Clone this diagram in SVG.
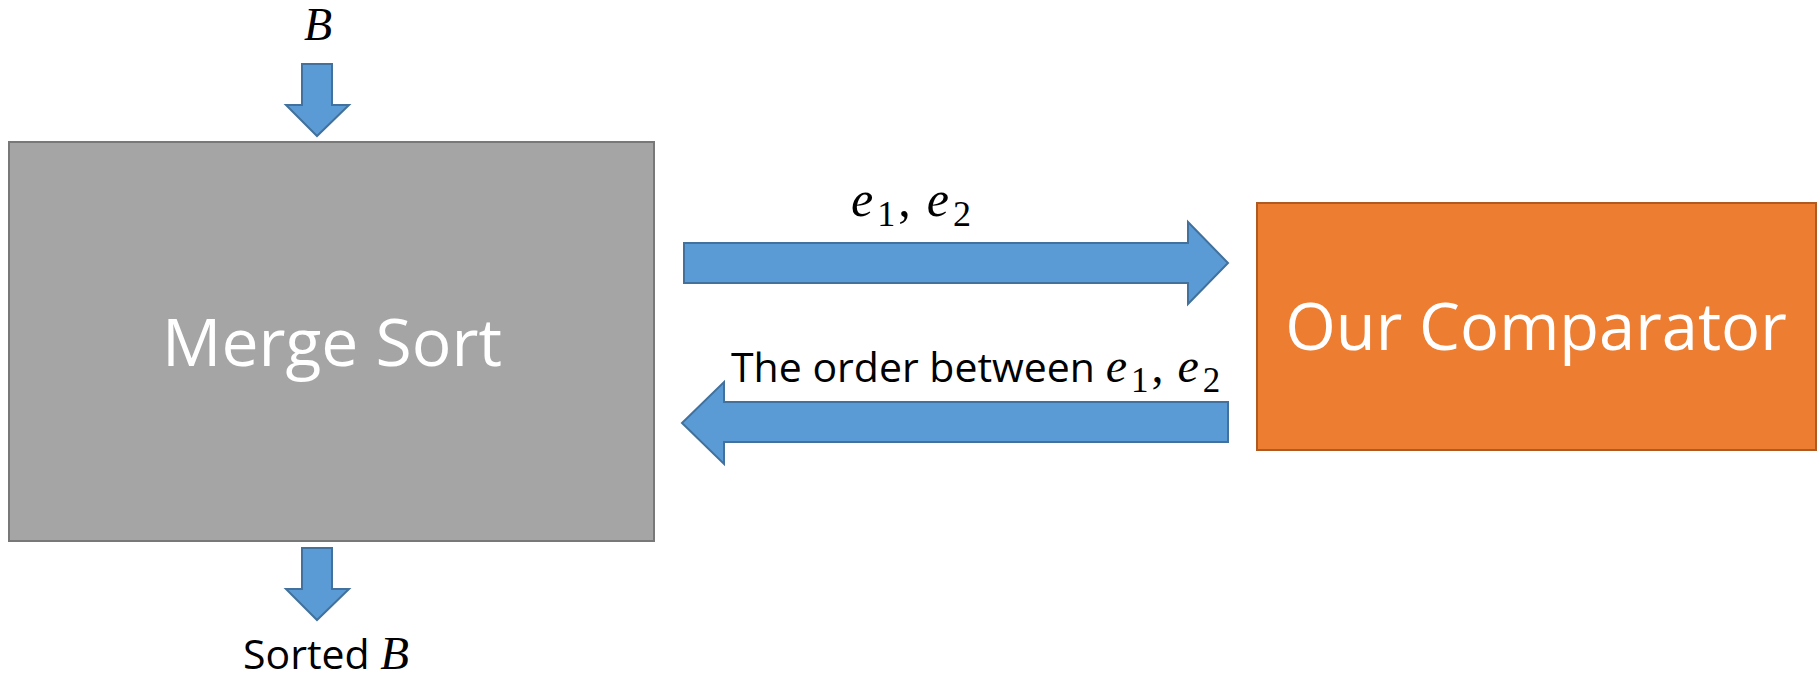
<svg xmlns="http://www.w3.org/2000/svg" width="1818" height="678" viewBox="0 0 1818 678">
  <style>
    .arrow { fill: #5b9bd5; stroke: #41719c; stroke-width: 2; stroke-linejoin: miter; }
    .box-title { font-family: "Open Sans", "Liberation Sans", sans-serif; fill: #ffffff; text-anchor: middle; }
    .caption { font-family: "Open Sans", "Liberation Sans", sans-serif; fill: #000000; font-size: 41px; }
    .math { font-family: "Liberation Serif", "DejaVu Serif", serif; font-style: italic; }
    .sub { font-family: "Liberation Serif", "DejaVu Serif", serif; font-style: normal; }
  </style>
  <rect width="1818" height="678" fill="#ffffff"/>

  <!-- Merge sort block -->
  <g id="merge-sort">
    <rect x="9" y="142" width="645" height="399" fill="#a5a5a5" stroke="#787878" stroke-width="2"/>
    <text class="box-title" x="332" y="366" font-size="66">Merge Sort</text>
  </g>

  <!-- Comparator block -->
  <g id="comparator">
    <rect x="1257" y="203" width="559" height="247" fill="#ed7d31" stroke="#ae5a21" stroke-width="2"/>
    <text class="box-title" x="1536" y="350" font-size="65">Our Comparator</text>
  </g>

  <!-- Flow arrows -->
  <g id="connectors">
    <!-- input B into merge sort -->
    <polygon class="arrow" points="302,64 332,64 332,105 349,105 317,136 286,105 302,105"/>
    <!-- sorted output -->
    <polygon class="arrow" points="302,548 332,548 332,589 349,589 317,620 286,589 302,589"/>
    <!-- pair sent to comparator -->
    <polygon class="arrow" points="684,243 1188,243 1188,222 1228,263 1188,304 1188,283 684,283"/>
    <!-- order returned to merge sort -->
    <polygon class="arrow" points="1228,402 724,402 724,382 682,423 724,464 724,442 1228,442"/>
  </g>

  <!-- Labels -->
  <g id="labels">
    <text class="math" x="318" y="40" font-size="46" text-anchor="middle">B</text>

    <text x="851" y="216" font-size="50"><tspan class="math">e</tspan><tspan class="sub" font-size="36" dx="4" dy="10">1</tspan><tspan class="sub" dx="3" dy="-10">,</tspan><tspan class="math" dx="16">e</tspan><tspan class="sub" font-size="36" dx="4" dy="10">2</tspan></text>

    <text class="caption" x="731" y="382">The order between <tspan class="math" font-size="48">e</tspan><tspan class="sub" font-size="35" dx="4" dy="10">1</tspan><tspan class="sub" font-size="48" dx="3" dy="-10">,</tspan><tspan class="math" font-size="48" dx="14">e</tspan><tspan class="sub" font-size="35" dx="4" dy="10">2</tspan></text>

    <text class="caption" x="243" y="669">Sorted <tspan class="math" font-size="47">B</tspan></text>
  </g>
</svg>
